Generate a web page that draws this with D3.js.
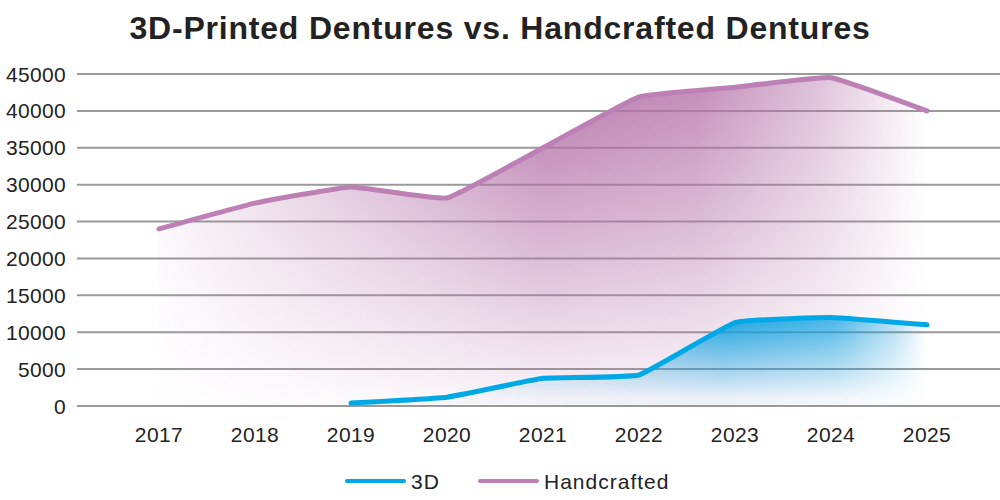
<!DOCTYPE html>
<html>
<head>
<meta charset="utf-8">
<script src="https://cdn.jsdelivr.net/npm/d3@7"></script>
<style>
  body { margin: 0; background: #fff; }
  text { font-family: 'Liberation Sans', Arial, sans-serif; fill: #222; }
</style>
</head>
<body>
<div id="chart"></div>
<script>
const years = ['2017', '2018', '2019', '2020', '2021', '2022', '2023', '2024', '2025']
const handcrafted = [24000, 27500, 29700, 28200, 35000, 41900, 43200, 44500, 40000]
const printed3d = [null, null, 400, 1200, 3750, 4200, 11300, 12000, 11000]
const yTicks = [0, 5000, 10000, 15000, 20000, 25000, 30000, 35000, 40000, 45000]

const width = 1000
const height = 500

const svg = d3
  .select('#chart')
  .append('svg')
  .attr('width', width)
  .attr('height', height)

const xPositionScale = d3.scalePoint().domain(years).range([159, 927])
const yPositionScale = d3.scaleLinear().domain([0, 45000]).range([406, 74])

const defs = svg.append('defs')

function addFill(id, color, x0, x1, y0, y1, stops) {
  const vert = defs
    .append('linearGradient')
    .attr('id', id + '-v')
    .attr('gradientUnits', 'userSpaceOnUse')
    .attr('x1', 0).attr('x2', 0)
    .attr('y1', y0).attr('y2', y1)
  vert.append('stop').attr('offset', 0).attr('stop-color', color).attr('stop-opacity', 0.95)
  vert.append('stop').attr('offset', 1).attr('stop-color', color).attr('stop-opacity', 0.06)

  const horiz = defs
    .append('linearGradient')
    .attr('id', id + '-h')
    .attr('gradientUnits', 'userSpaceOnUse')
    .attr('x1', x0).attr('x2', x1)
    .attr('y1', 0).attr('y2', 0)
  stops.forEach(s => {
    horiz.append('stop').attr('offset', s[0]).attr('stop-color', '#fff').attr('stop-opacity', s[1])
  })

  const mask = defs.append('mask').attr('id', id + '-m')
  mask
    .append('rect')
    .attr('x', 0).attr('y', 0)
    .attr('width', width).attr('height', height)
    .attr('fill', `url(#${id}-h)`)
}

addFill('hand', '#b472a8', 159, 927, 80, 406, [
  [0, 0.08], [0.25, 0.55], [0.5, 1], [0.7, 0.85], [0.86, 0.45], [1, 0]
])
addFill('print', '#0aa3e2', 350, 927, 315, 398, [
  [0, 0.15], [0.4, 0.6], [0.65, 1], [0.84, 0.8], [0.94, 0.35], [1, 0]
])

// gridlines
svg
  .append('g')
  .selectAll('line')
  .data(yTicks)
  .enter()
  .append('line')
  .attr('x1', 77)
  .attr('x2', 1000)
  .attr('y1', d => yPositionScale(d))
  .attr('y2', d => yPositionScale(d))
  .attr('stroke', '#9a9a9a')
  .attr('stroke-width', 2)

// y labels
svg
  .append('g')
  .selectAll('text')
  .data(yTicks)
  .enter()
  .append('text')
  .attr('x', 66)
  .attr('y', d => yPositionScale(d))
  .attr('dy', '0.36em')
  .attr('text-anchor', 'end')
  .attr('font-size', 21)
  .attr('letter-spacing', 0.3)
  .text(d => d)

// x labels
svg
  .append('g')
  .selectAll('text')
  .data(years)
  .enter()
  .append('text')
  .attr('x', d => xPositionScale(d))
  .attr('y', 442)
  .attr('text-anchor', 'middle')
  .attr('font-size', 21)
  .attr('letter-spacing', 0.4)
  .text(d => d)

const series = [
  { name: 'hand', values: handcrafted, color: '#bc80b5' },
  { name: 'print', values: printed3d, color: '#00a8e6' }
]

series.forEach(s => {
  const pts = years
    .map((y, i) => ({ year: y, value: s.values[i] }))
    .filter(d => d.value !== null)

  const curve = d3.curveCardinal.tension(0.7)

  const area = d3
    .area()
    .x(d => xPositionScale(d.year))
    .y0(yPositionScale(0))
    .y1(d => yPositionScale(d.value))
    .curve(curve)

  svg
    .append('path')
    .datum(pts)
    .attr('d', area)
    .attr('fill', `url(#${s.name}-v)`)
    .attr('mask', `url(#${s.name}-m)`)

  const line = d3
    .line()
    .x(d => xPositionScale(d.year))
    .y(d => yPositionScale(d.value))
    .curve(curve)

  svg
    .append('path')
    .datum(pts)
    .attr('d', line)
    .attr('fill', 'none')
    .attr('stroke', s.color)
    .attr('stroke-width', 5)
    .attr('stroke-linecap', 'round')
})

// title
svg
  .append('text')
  .attr('x', 500)
  .attr('y', 39)
  .attr('text-anchor', 'middle')
  .attr('font-size', 32)
  .attr('font-weight', 'bold')
  .attr('letter-spacing', 0.8)
  .text('3D-Printed Dentures vs. Handcrafted Dentures')

// legend
const legend = [
  { label: '3D', color: '#00a8e6', x: 347 },
  { label: 'Handcrafted', color: '#bc80b5', x: 480 }
]
const lg = svg.append('g')
legend.forEach(l => {
  lg.append('line')
    .attr('x1', l.x).attr('x2', l.x + 57)
    .attr('y1', 481).attr('y2', 481)
    .attr('stroke', l.color)
    .attr('stroke-width', 4)
    .attr('stroke-linecap', 'round')
  lg.append('text')
    .attr('x', l.x + 64)
    .attr('y', 481)
    .attr('dy', '0.36em')
    .attr('font-size', 21)
    .attr('letter-spacing', 1)
    .text(l.label)
})
</script>
</body>
</html>
